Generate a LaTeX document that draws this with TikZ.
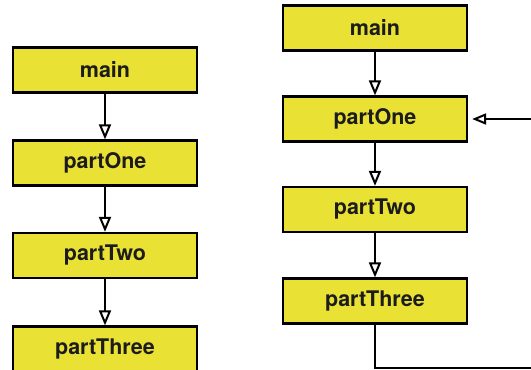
\documentclass[tikz,border=0pt]{standalone}
\usepackage{fontspec}
\setmainfont{TeX Gyre Heros}
\usetikzlibrary{arrows.meta}
\definecolor{boxfill}{RGB}{233,225,52}
\definecolor{boxtext}{RGB}{28,28,28}
\tikzset{
  callbox/.style={draw=black, line width=2.3pt, fill=boxfill, minimum width=184pt,
    minimum height=45pt, inner sep=0pt, text=boxtext,
    font=\fontsize{21.5}{24}\selectfont\bfseries},
  flow/.style={draw=black, line width=2.2pt,
    -{Triangle[open, length=15pt, width=12pt, line width=2pt]}},
  backflow/.style={draw=black, line width=2.2pt, shorten >=4pt,
    -{Triangle[open, length=14pt, width=11pt, line width=2pt]}}
}
\begin{document}
\begin{tikzpicture}[x=1pt, y=-1pt]
  \useasboundingbox (0,0) rectangle (531,370);
  % straight call chain
  \node[callbox] (lmain)  at (105,70)    {main};
  \node[callbox] (lone)   at (105,163)   {partOne};
  \node[callbox] (ltwo)   at (105,255.5) {partTwo};
  \node[callbox] (lthree) at (105,349)   {partThree};
  \draw[flow] (lmain.south) -- (lone.north);
  \draw[flow] (lone.south)  -- (ltwo.north);
  \draw[flow] (ltwo.south)  -- (lthree.north);
  % call chain with a loop back
  \node[callbox] (rmain)  at (375,28)    {main};
  \node[callbox] (rone)   at (375,119)   {partOne};
  \node[callbox] (rtwo)   at (375,209.5) {partTwo};
  \node[callbox] (rthree) at (375,301)   {partThree};
  \draw[flow] (rmain.south) -- (rone.north);
  \draw[flow] (rone.south)  -- (rtwo.north);
  \draw[flow] (rtwo.south)  -- (rthree.north);
  \coordinate (loopcorner) at (560,368);
  \draw[backflow] (rthree.south) |- (loopcorner) |- (rone.east);
\end{tikzpicture}
\end{document}
